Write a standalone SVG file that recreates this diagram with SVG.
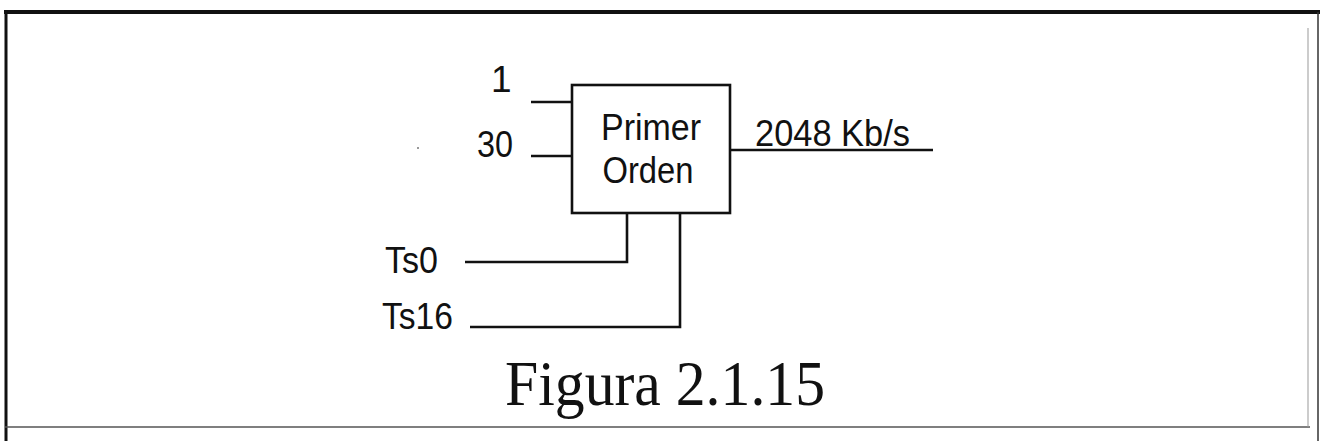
<svg xmlns="http://www.w3.org/2000/svg" width="1320" height="441" viewBox="0 0 1320 441">
<style>
.ln{stroke:#111;stroke-width:2.6;fill:none}
.lb{font-family:"Liberation Sans",Arial,sans-serif;fill:#111;font-size:37px}
.cap{font-family:"Liberation Serif","Times New Roman",serif;fill:#111;font-size:64px}
</style>
<rect width="1320" height="441" fill="#fff"/>
<g id="frame">
<line x1="4" y1="12" x2="1320" y2="12" stroke="#111" stroke-width="4"/>
<line x1="6" y1="10" x2="6" y2="441" stroke="#111" stroke-width="3"/>
<line x1="5" y1="427" x2="1310" y2="427" stroke="#555" stroke-width="1.5"/>
<line x1="1308" y1="28" x2="1308" y2="427" stroke="#999" stroke-width="1"/>
<line x1="1318" y1="12" x2="1318" y2="441" stroke="#333" stroke-width="1.5"/>
</g>
<g id="mux">
<rect x="572" y="85" width="158" height="128" class="ln"/>
<text class="lb" x="651" y="140" text-anchor="middle" textLength="100" lengthAdjust="spacingAndGlyphs">Primer</text>
<text class="lb" x="648" y="183" text-anchor="middle" textLength="91" lengthAdjust="spacingAndGlyphs">Orden</text>
</g>
<g id="labels">
<text class="lb" x="491" y="92">1</text>
<text class="lb" x="477" y="157" textLength="36" lengthAdjust="spacingAndGlyphs">30</text>
<text class="lb" x="755" y="146" textLength="155" lengthAdjust="spacingAndGlyphs">2048 Kb/s</text>
<text class="lb" x="385" y="273" textLength="53" lengthAdjust="spacingAndGlyphs">Ts0</text>
<text class="lb" x="382" y="329" textLength="71" lengthAdjust="spacingAndGlyphs">Ts16</text>
</g>
<g id="connectors">
<line x1="531" y1="102" x2="572" y2="102" class="ln"/>
<line x1="531" y1="156" x2="572" y2="156" class="ln"/>
<line x1="730" y1="150" x2="933" y2="150" class="ln"/>
<polyline points="465,262 627,262 627,213" class="ln"/>
<polyline points="470,327 680,327 680,213" class="ln"/>
</g>
<circle cx="418" cy="148" r="1" fill="#777"/>
<text class="cap" x="505" y="405" textLength="320" lengthAdjust="spacingAndGlyphs">Figura 2.1.15</text>
</svg>
